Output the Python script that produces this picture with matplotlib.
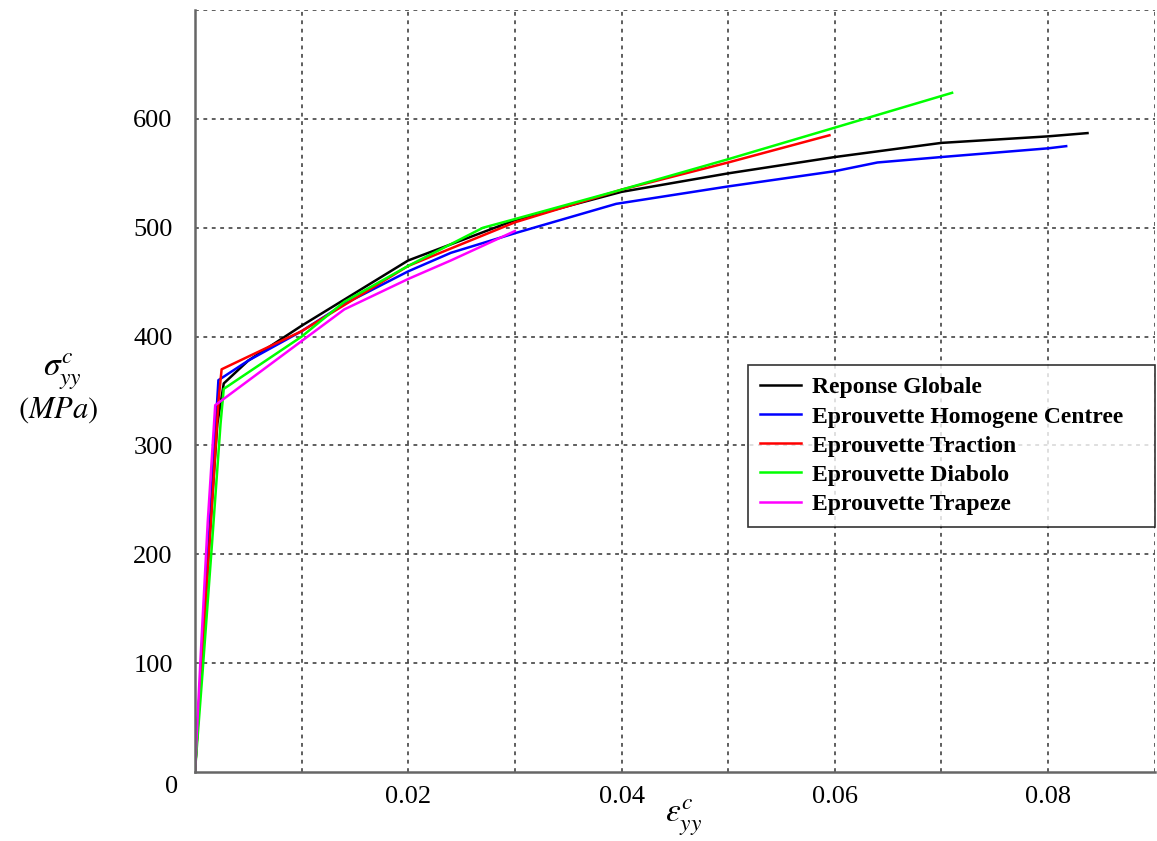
import matplotlib
matplotlib.use("Agg")
import matplotlib.pyplot as plt

plt.rcParams['mathtext.fontset'] = 'stix'

# strain / stress curves
strain_globale = [0.0, 0.0006, 0.0014, 0.0021, 0.0027, 0.005, 0.01, 0.015, 0.02, 0.03, 0.04, 0.05, 0.06, 0.07, 0.08, 0.0837]
stress_globale = [0, 100, 220, 320, 357, 378, 410, 440, 470, 507, 533, 550, 565, 578, 584, 587]

strain_homogene = [0.0, 0.0006, 0.0014, 0.0022, 0.005, 0.01, 0.014, 0.02, 0.024, 0.03, 0.0395, 0.05, 0.06, 0.064, 0.07, 0.08, 0.0817]
stress_homogene = [0, 100, 230, 360, 378, 405, 430, 460, 477, 495, 522, 538, 552, 560, 565, 573, 575]

strain_traction = [0.0, 0.0006, 0.0015, 0.0022, 0.0025, 0.01, 0.02, 0.03, 0.04, 0.05, 0.0595]
stress_traction = [0, 95, 230, 340, 370, 405, 465, 505, 535, 560, 585]

strain_diabolo = [0.0, 0.0007, 0.0016, 0.0024, 0.0027, 0.01, 0.014, 0.02, 0.027, 0.03, 0.04, 0.05, 0.06, 0.071]
stress_diabolo = [0, 90, 210, 320, 352, 400, 432, 465, 500, 508, 535, 563, 592, 624]

strain_trapeze = [0.0, 0.0005, 0.0012, 0.0019, 0.014, 0.02, 0.024, 0.030]
stress_trapeze = [0, 100, 230, 337, 425, 453, 470, 497]

labels = ["Reponse Globale", "Eprouvette Homogene Centree", "Eprouvette Traction",
          "Eprouvette Diabolo", "Eprouvette Trapeze"]
colors = ["#000000", "#0000ff", "#ff0000", "#00ff00", "#ff00ff"]

xtick_labels = ["", "0.02", "", "0.04", "", "0.06", "", "0.08", ""]
yticks = [100, 200, 300, 400, 500, 600]

fig = plt.figure(figsize=(11.57, 8.41), dpi=100)
ax = fig.add_axes([0.1685, 0.082, 0.8295, 0.906])

series = [(strain_globale, stress_globale), (strain_homogene, stress_homogene),
          (strain_traction, stress_traction), (strain_diabolo, stress_diabolo),
          (strain_trapeze, stress_trapeze)]
for (sx, sy), lab, col in zip(series, labels, colors):
    ax.plot(sx, sy, color=col, lw=1.8, label=lab)

ax.set_xlim(0, 0.09)
ax.set_ylim(0, 700)

# grid every 0.01 / 100, labels only on some
ax.set_xticks([i * 0.01 for i in range(1, 10)])
ax.set_xticklabels(xtick_labels)
ax.set_yticks(list(range(100, 701, 100)))
ax.set_yticklabels([str(v) for v in yticks] + [""])
ax.tick_params(length=0, labelsize=19)
ax.tick_params(axis="x", pad=10)
ax.tick_params(axis="y", pad=16)
for t in ax.get_xticklabels() + ax.get_yticklabels():
    t.set_family("Liberation Serif")
ax.grid(True, color="#333333", linestyle=(0, (2.5, 3)), linewidth=1.1)

for s in ["top", "right"]:
    ax.spines[s].set_visible(False)
for s in ["left", "bottom"]:
    ax.spines[s].set_color("#666666")
    ax.spines[s].set_linewidth(1.8)

fig.text(172 / 1157, 1 - 787 / 841, "0", ha="center", va="center", fontsize=19, family="Liberation Serif")

fig.text(62 / 1157, 1 - 372 / 841, r"$\sigma_{yy}^{c}$", ha="center", va="center", fontsize=24)
fig.text(58 / 1157, 1 - 410 / 841, r"$(MPa)$", ha="center", va="center", fontsize=22)
fig.text(684 / 1157, 1 - 818 / 841, r"$\varepsilon_{yy}^{c}$", ha="center", va="center", fontsize=24)

leg = ax.legend(loc="upper left", bbox_to_anchor=(0.576, 0.32, 0.424, 0.214), mode="expand",
                frameon=True, fancybox=False,
                prop={"family": "Liberation Serif", "size": 17, "weight": "bold"}, handlelength=1.75,
                borderpad=0.5, labelspacing=0.32, handletextpad=0.45, borderaxespad=0.0)
leg.get_frame().set_edgecolor("#000000")
leg.get_frame().set_linewidth(1.2)

fig.savefig("out.png", dpi=100)
